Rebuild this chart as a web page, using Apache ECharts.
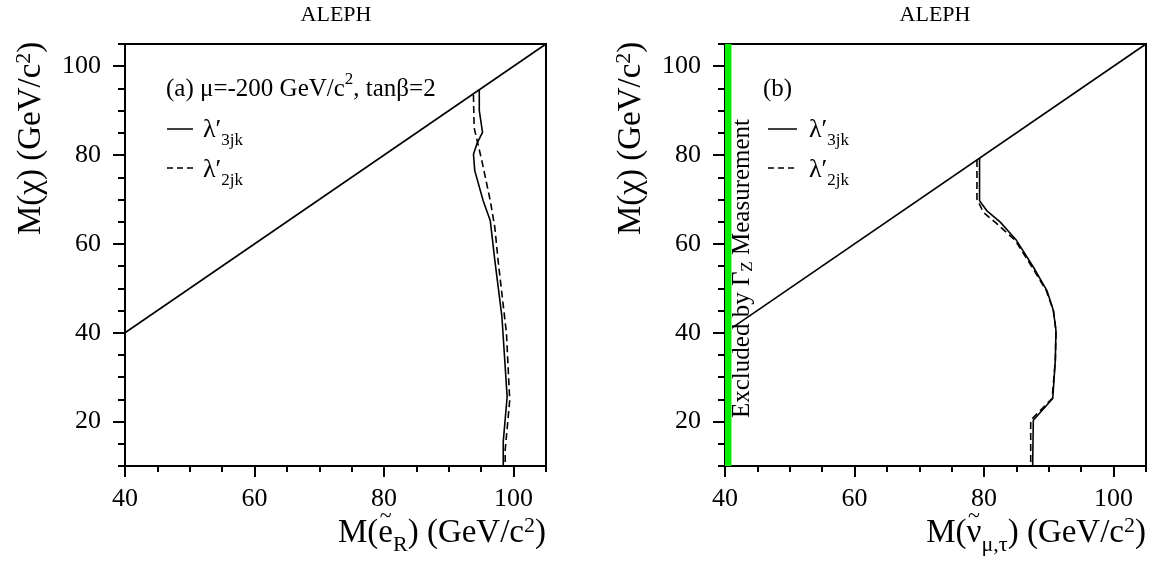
<!DOCTYPE html>
<html><head><meta charset="utf-8">
<script src="https://cdn.jsdelivr.net/npm/echarts@6/dist/echarts.min.js"></script>
<style>html,body{margin:0;padding:0;background:#fff}#c{width:1151px;height:565px}</style>
</head><body><div id="c"></div><script>
// ---- data ----
const xTicks = [40, 60, 80, 100];
const yTicks = [20, 40, 60, 80, 100];
const xMinorTicks = [45, 50, 55, 65, 70, 75, 85, 90, 95, 105];
const yMinorTicks = [10, 15, 25, 30, 35, 45, 50, 55, 65, 70, 75, 85, 90, 95, 105];
const diagA_x = [40, 105], diagA_y = [40, 105];
const diagB_x = [41.2, 105], diagB_y = [41.2, 105];
const greenBand = [40, 41];
const a3jk_x = [94.7, 94.7, 95.2, 94.4, 93.8, 94.0, 95.3, 96.4, 97.1, 98.2, 99.0, 98.4, 98.4];
const a3jk_y = [94.7, 90.0, 85.1, 82.8, 80.2, 76.5, 69.7, 65.2, 56.3, 43.5, 25.6, 15.5, 10];
const a2jk_x = [93.8, 93.9, 95.1, 96.4, 97.1, 97.6, 98.9, 99.4, 98.7, 98.7];
const a2jk_y = [93.5, 86.2, 78.7, 69.7, 63.7, 56.3, 39.8, 24.8, 13.6, 10];
const b3jk_x = [79.3, 79.3, 80.4, 82.5, 85.0, 87.6, 89.7, 90.7, 91.1, 91.0, 90.6, 87.6, 87.5];
const b3jk_y = [79.3, 69.7, 67.5, 64.9, 60.8, 54.8, 49.5, 45.0, 40.5, 33.8, 25.2, 20.3, 10];
const b2jk_x = [78.9, 78.9, 79.9, 82.0, 84.8, 87.4, 89.6, 90.7, 91.1, 91.0, 90.5, 87.2, 87.2];
const b2jk_y = [78.9, 70.1, 67.1, 64.5, 60.8, 54.8, 49.5, 45.0, 40.5, 33.8, 25.2, 20.3, 10];

// ---- helpers ----
const FONT = '"Liberation Serif", "Times New Roman", serif';
const zip = (xs, ys) => xs.map((x, i) => [x, ys[i]]);
const cv = document.createElement('canvas').getContext('2d');
function tw(t, s) { cv.font = s + 'px ' + FONT; return cv.measureText(t).width; }
function txt(t, x, y, s, align) {
  return { type: 'text', x: x, y: y, z: 100, style: {
    text: t, font: s + 'px ' + FONT, fontSize: s, fontFamily: FONT, fill: '#000',
    align: align || 'left', verticalAlign: 'middle',
    textAlign: align || 'left', textVerticalAlign: 'middle' } };
}
// parts: [{t, s, dy, acc}] laid out left to right; acc = accent text drawn centred above
function runs(parts, x, y, opts) {
  opts = opts || {};
  let total = 0; parts.forEach(p => total += tw(p.t, p.s));
  let cx = opts.align === 'right' ? -total : (opts.align === 'center' ? -total / 2 : 0);
  const children = [];
  parts.forEach(p => {
    const w = tw(p.t, p.s);
    children.push(txt(p.t, cx, p.dy || 0, p.s));
    if (p.acc) children.push(txt(p.acc, cx + w / 2, p.accDy, p.accS, 'center'));
    cx += w;
  });
  return { type: 'group', x: x, y: y, rotation: opts.rot || 0, z: 100, children: children };
}
function hline(x1, x2, y, dash) {
  return { type: 'line', z: 100, shape: { x1: x1, y1: y, x2: x2, y2: y },
    style: { stroke: '#000', lineWidth: 1.5, lineDash: dash ? [6, 4] : null } };
}

function mainX(g) {
  return { type: 'value', gridIndex: g, min: 40, max: 105,
    axisLine: { lineStyle: { color: '#000', width: 2 } },
    axisTick: { customValues: xTicks, length: 11, lineStyle: { color: '#000', width: 2 } },
    axisLabel: { customValues: xTicks, color: '#000', fontSize: 26, fontFamily: FONT, margin: 20 },
    splitLine: { show: false } };
}
function minorX(g) {
  return { type: 'value', gridIndex: g, min: 40, max: 105, position: 'bottom',
    axisLine: { show: false },
    axisTick: { customValues: xMinorTicks, length: 6, lineStyle: { color: '#000', width: 2 } },
    axisLabel: { show: false }, splitLine: { show: false } };
}
function mainY(g) {
  return { type: 'value', gridIndex: g, min: 10, max: 105,
    axisLine: { show: true, lineStyle: { color: '#000', width: 2 } },
    axisTick: { show: true, customValues: yTicks, length: 12, lineStyle: { color: '#000', width: 2 } },
    axisLabel: { customValues: yTicks, color: '#000', fontSize: 26, fontFamily: FONT, margin: 24 },
    splitLine: { show: false } };
}
function minorY(g) {
  return { type: 'value', gridIndex: g, min: 10, max: 105, position: 'left',
    axisLine: { show: false },
    axisTick: { show: true, customValues: yMinorTicks, length: 7, lineStyle: { color: '#000', width: 2 } },
    axisLabel: { show: false }, splitLine: { show: false } };
}
function ln(xi, data, dashed, extra) {
  return Object.assign({ type: 'line', xAxisIndex: xi, yAxisIndex: xi, data: data,
    showSymbol: false, symbol: 'none', animation: false, silent: true,
    lineStyle: { color: '#000', width: 1.6, type: dashed ? [7, 4] : 'solid' } }, extra || {});
}

const gridBox = { top: 44, width: 421, height: 422, show: true, borderColor: '#000', borderWidth: 2, backgroundColor: 'transparent' };
const TS = 33, SS = 22;
const yTitle = [{ t: 'M(χ) (GeV/c', s: TS }, { t: '2', s: SS, dy: -7 }, { t: ')', s: TS }];

const chart = echarts.init(document.getElementById('c'), null, { renderer: 'canvas' });
chart.setOption({
  animation: false,
  backgroundColor: '#fff',
  grid: [Object.assign({ left: 125 }, gridBox), Object.assign({ left: 725 }, gridBox)],
  xAxis: [mainX(0), minorX(0), mainX(1), minorX(1)],
  yAxis: [mainY(0), minorY(0), mainY(1), minorY(1)],
  series: [
    ln(0, zip(diagA_x, diagA_y), false),
    ln(0, zip(a3jk_x, a3jk_y), false),
    ln(0, zip(a2jk_x, a2jk_y), true),
    ln(2, zip(diagB_x, diagB_y), false, {
      markArea: { silent: true, itemStyle: { color: '#00ee00', opacity: 1 },
        data: [[{ xAxis: greenBand[0], yAxis: 10 }, { xAxis: greenBand[1], yAxis: 105 }]] } }),
    ln(2, zip(b3jk_x, b3jk_y), false),
    ln(2, zip(b2jk_x, b2jk_y), true)
  ],
  graphic: [
    txt('ALEPH', 336, 15, 22, 'center'),
    txt('ALEPH', 935, 15, 22, 'center'),
    // y-axis titles
    runs(yTitle, 31, 235, { rot: Math.PI / 2 }),
    runs(yTitle, 631, 235, { rot: Math.PI / 2 }),
    // x-axis titles
    runs([{ t: 'M(', s: TS }, { t: 'e', s: TS, acc: '~', accS: 22, accDy: -17 }, { t: 'R', s: SS, dy: 12 }, { t: ') (GeV/c', s: TS }, { t: '2', s: SS, dy: -7 }, { t: ')', s: TS }], 546, 533, { align: 'right' }),
    runs([{ t: 'M(', s: TS }, { t: 'ν', s: TS, acc: '~', accS: 22, accDy: -17 }, { t: 'μ,τ', s: SS, dy: 12 }, { t: ') (GeV/c', s: TS }, { t: '2', s: SS, dy: -7 }, { t: ')', s: TS }], 1146, 533, { align: 'right' }),
    // left legend
    runs([{ t: '(a) μ=-200 GeV/c', s: 25 }, { t: '2', s: 17, dy: -9 }, { t: ', tanβ=2', s: 25 }], 166, 89),
    hline(167, 193, 129, false),
    runs([{ t: 'λ′', s: 26 }, { t: '3jk', s: 17, dy: 11 }], 203, 130),
    hline(167, 193, 168, true),
    runs([{ t: 'λ′', s: 26 }, { t: '2jk', s: 17, dy: 11 }], 203, 170),
    // right legend
    runs([{ t: '(b)', s: 25 }], 763, 89),
    hline(768, 797, 129, false),
    runs([{ t: 'λ′', s: 26 }, { t: '3jk', s: 17, dy: 11 }], 809, 130),
    hline(768, 797, 168, true),
    runs([{ t: 'λ′', s: 26 }, { t: '2jk', s: 17, dy: 11 }], 809, 170),
    // excluded text
    runs([{ t: 'Excluded by Γ', s: 25 }, { t: 'Z', s: 17, dy: 6 }, { t: ' Measurement', s: 25 }], 742, 418, { rot: Math.PI / 2 })
  ]
});
</script></body></html>
